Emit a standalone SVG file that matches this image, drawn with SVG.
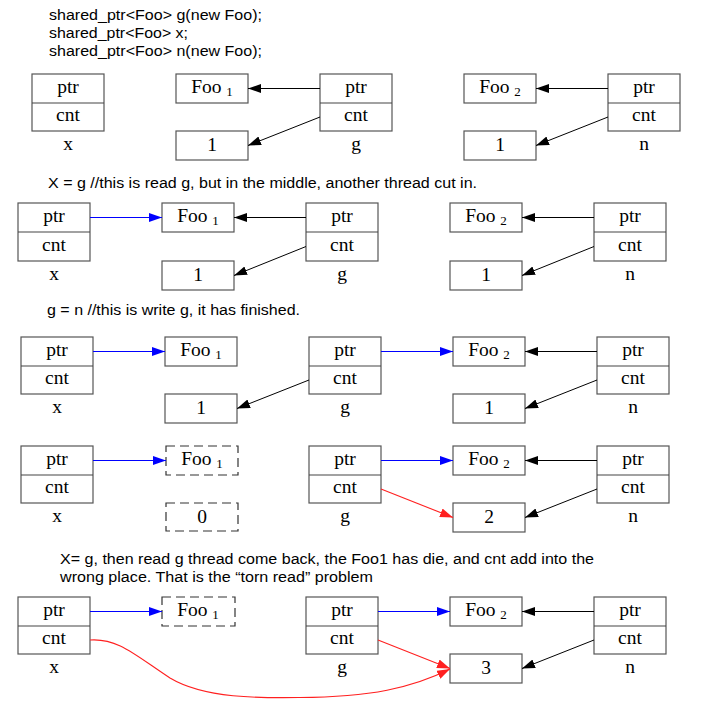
<svg xmlns="http://www.w3.org/2000/svg" width="701" height="702" viewBox="0 0 701 702">
<style>
.bg{fill:#fff}
.box{fill:#fff;stroke:#555;stroke-width:1.2}
.dash{fill:#fff;stroke:#333;stroke-width:1.2;stroke-dasharray:9,5}
.div{stroke:#444;stroke-width:1.2}
.t{font-family:"Liberation Serif","Times New Roman",serif;font-size:19.5px;fill:#000;text-anchor:middle}
.sub{font-size:13px}
.cap{font-family:"Liberation Sans",Arial,sans-serif;font-size:15.5px;fill:#000}
.e{fill:none;stroke:#000;stroke-width:1}
.eb{fill:none;stroke:#0000ff;stroke-width:1}
.er{fill:none;stroke:#ff2020;stroke-width:1.1}
</style>
<defs>
<marker id="ak" markerUnits="userSpaceOnUse" markerWidth="14" markerHeight="10" refX="13" refY="4.5" orient="auto"><path d="M0,0 L13,4.5 L0,9 z" fill="#000"/></marker>
<marker id="ab" markerUnits="userSpaceOnUse" markerWidth="14" markerHeight="10" refX="13" refY="4.5" orient="auto"><path d="M0,0 L13,4.5 L0,9 z" fill="#0000ff"/></marker>
<marker id="ar" markerUnits="userSpaceOnUse" markerWidth="14" markerHeight="10" refX="13" refY="4.5" orient="auto"><path d="M0,0 L13,4.5 L0,9 z" fill="#ff2020"/></marker>
</defs>
<rect class="bg" x="0" y="0" width="701" height="702"/>

<g id="captions">
<text class="cap" x="49" y="20" textLength="213" lengthAdjust="spacingAndGlyphs">shared_ptr&lt;Foo&gt; g(new Foo);</text>
<text class="cap" x="49" y="38" textLength="139" lengthAdjust="spacingAndGlyphs">shared_ptr&lt;Foo&gt; x;</text>
<text class="cap" x="49" y="56" textLength="213" lengthAdjust="spacingAndGlyphs">shared_ptr&lt;Foo&gt; n(new Foo);</text>
<text class="cap" x="48" y="188" textLength="429" lengthAdjust="spacingAndGlyphs">X = g //this is read g, but in the middle, another thread cut in.</text>
<text class="cap" x="47" y="315" textLength="253" lengthAdjust="spacingAndGlyphs">g = n //this is write g, it has finished.</text>
<text class="cap" x="60" y="564" textLength="534" lengthAdjust="spacingAndGlyphs">X= g, then read g thread come back, the Foo1 has die, and cnt add into the</text>
<text class="cap" x="60" y="582" textLength="313" lengthAdjust="spacingAndGlyphs">wrong place. That is the “torn read” problem</text>
</g>

<!-- Row 1 -->
<g id="r1-x"><rect class="box" x="32" y="74" width="72" height="57"/><line class="div" x1="32" y1="103" x2="104" y2="103"/><text class="t" x="68" y="93">ptr</text><text class="t" x="68" y="121">cnt</text><text class="t" x="68" y="150">x</text></g>
<g id="r1-foo1"><rect class="box" x="176" y="74" width="72" height="29"/><text class="t" x="212" y="93">Foo <tspan class="sub" dy="3">1</tspan></text></g>
<g id="r1-cnt1"><rect class="box" x="176" y="131" width="72" height="29"/><text class="t" x="212" y="151">1</text></g>
<g id="r1-g"><rect class="box" x="320" y="74" width="72" height="57"/><line class="div" x1="320" y1="103" x2="392" y2="103"/><text class="t" x="356" y="93">ptr</text><text class="t" x="356" y="121">cnt</text><text class="t" x="356" y="150">g</text></g>
<g id="r1-foo2"><rect class="box" x="464" y="74" width="72" height="29"/><text class="t" x="500" y="93">Foo <tspan class="sub" dy="3">2</tspan></text></g>
<g id="r1-cnt2"><rect class="box" x="464" y="131" width="72" height="29"/><text class="t" x="500" y="151">1</text></g>
<g id="r1-n"><rect class="box" x="608" y="74" width="72" height="57"/><line class="div" x1="608" y1="103" x2="680" y2="103"/><text class="t" x="644" y="93">ptr</text><text class="t" x="644" y="121">cnt</text><text class="t" x="644" y="150">n</text></g>

<!-- Row 2 -->
<g id="r2-x"><rect class="box" x="18" y="203" width="72" height="58"/><line class="div" x1="18" y1="232" x2="90" y2="232"/><text class="t" x="54" y="222">ptr</text><text class="t" x="54" y="251">cnt</text><text class="t" x="54" y="280">x</text></g>
<g id="r2-foo1"><rect class="box" x="162" y="203" width="72" height="29"/><text class="t" x="198" y="222">Foo <tspan class="sub" dy="3">1</tspan></text></g>
<g id="r2-cnt1"><rect class="box" x="162" y="261" width="72" height="29"/><text class="t" x="198" y="281">1</text></g>
<g id="r2-g"><rect class="box" x="306" y="203" width="72" height="58"/><line class="div" x1="306" y1="232" x2="378" y2="232"/><text class="t" x="342" y="222">ptr</text><text class="t" x="342" y="251">cnt</text><text class="t" x="342" y="280">g</text></g>
<g id="r2-foo2"><rect class="box" x="450" y="203" width="72" height="29"/><text class="t" x="486" y="222">Foo <tspan class="sub" dy="3">2</tspan></text></g>
<g id="r2-cnt2"><rect class="box" x="450" y="261" width="72" height="29"/><text class="t" x="486" y="281">1</text></g>
<g id="r2-n"><rect class="box" x="594" y="203" width="72" height="58"/><line class="div" x1="594" y1="232" x2="666" y2="232"/><text class="t" x="630" y="222">ptr</text><text class="t" x="630" y="251">cnt</text><text class="t" x="630" y="280">n</text></g>

<!-- Row 3 -->
<g id="r3-x"><rect class="box" x="21" y="337" width="72" height="57"/><line class="div" x1="21" y1="366" x2="93" y2="366"/><text class="t" x="57" y="356">ptr</text><text class="t" x="57" y="384">cnt</text><text class="t" x="57" y="413">x</text></g>
<g id="r3-foo1"><rect class="box" x="165" y="337" width="72" height="29"/><text class="t" x="201" y="356">Foo <tspan class="sub" dy="3">1</tspan></text></g>
<g id="r3-cnt1"><rect class="box" x="165" y="394" width="72" height="29"/><text class="t" x="201" y="414">1</text></g>
<g id="r3-g"><rect class="box" x="309" y="337" width="72" height="57"/><line class="div" x1="309" y1="366" x2="381" y2="366"/><text class="t" x="345" y="356">ptr</text><text class="t" x="345" y="384">cnt</text><text class="t" x="345" y="413">g</text></g>
<g id="r3-foo2"><rect class="box" x="453" y="337" width="72" height="29"/><text class="t" x="489" y="356">Foo <tspan class="sub" dy="3">2</tspan></text></g>
<g id="r3-cnt2"><rect class="box" x="453" y="394" width="72" height="29"/><text class="t" x="489" y="414">1</text></g>
<g id="r3-n"><rect class="box" x="597" y="337" width="72" height="57"/><line class="div" x1="597" y1="366" x2="669" y2="366"/><text class="t" x="633" y="356">ptr</text><text class="t" x="633" y="384">cnt</text><text class="t" x="633" y="413">n</text></g>

<!-- Row 4 -->
<g id="r4-x"><rect class="box" x="21" y="446" width="72" height="57"/><line class="div" x1="21" y1="475" x2="93" y2="475"/><text class="t" x="57" y="465">ptr</text><text class="t" x="57" y="493">cnt</text><text class="t" x="57" y="522">x</text></g>
<g id="r4-foo1"><rect class="dash" x="166" y="446" width="72" height="29"/><text class="t" x="202" y="465">Foo <tspan class="sub" dy="3">1</tspan></text></g>
<g id="r4-cnt1"><rect class="dash" x="166" y="503" width="72" height="28"/><text class="t" x="202" y="523">0</text></g>
<g id="r4-g"><rect class="box" x="309" y="446" width="72" height="57"/><line class="div" x1="309" y1="475" x2="381" y2="475"/><text class="t" x="345" y="465">ptr</text><text class="t" x="345" y="493">cnt</text><text class="t" x="345" y="522">g</text></g>
<g id="r4-foo2"><rect class="box" x="453" y="446" width="72" height="29"/><text class="t" x="489" y="465">Foo <tspan class="sub" dy="3">2</tspan></text></g>
<g id="r4-cnt2"><rect class="box" x="453" y="503" width="72" height="29"/><text class="t" x="489" y="523">2</text></g>
<g id="r4-n"><rect class="box" x="597" y="446" width="72" height="57"/><line class="div" x1="597" y1="475" x2="669" y2="475"/><text class="t" x="633" y="465">ptr</text><text class="t" x="633" y="493">cnt</text><text class="t" x="633" y="522">n</text></g>

<!-- Row 5 -->
<g id="r5-x"><rect class="box" x="18" y="597" width="72" height="57"/><line class="div" x1="18" y1="626" x2="90" y2="626"/><text class="t" x="54" y="616">ptr</text><text class="t" x="54" y="644">cnt</text><text class="t" x="54" y="673">x</text></g>
<g id="r5-foo1"><rect class="dash" x="162" y="597" width="73" height="29"/><text class="t" x="198" y="616">Foo <tspan class="sub" dy="3">1</tspan></text></g>
<g id="r5-g"><rect class="box" x="306" y="597" width="72" height="57"/><line class="div" x1="306" y1="626" x2="378" y2="626"/><text class="t" x="342" y="616">ptr</text><text class="t" x="342" y="644">cnt</text><text class="t" x="342" y="673">g</text></g>
<g id="r5-foo2"><rect class="box" x="450" y="597" width="72" height="29"/><text class="t" x="486" y="616">Foo <tspan class="sub" dy="3">2</tspan></text></g>
<g id="r5-cnt2"><rect class="box" x="450" y="654" width="72" height="29"/><text class="t" x="486" y="674">3</text></g>
<g id="r5-n"><rect class="box" x="594" y="597" width="72" height="57"/><line class="div" x1="594" y1="626" x2="666" y2="626"/><text class="t" x="630" y="616">ptr</text><text class="t" x="630" y="644">cnt</text><text class="t" x="630" y="673">n</text></g>

<g id="connectors">
<!-- Row 1 -->
<line class="e" x1="320" y1="88.5" x2="248" y2="88.5" marker-end="url(#ak)"/>
<line class="e" x1="320" y1="117" x2="248" y2="145.5" marker-end="url(#ak)"/>
<line class="e" x1="608" y1="88.5" x2="536" y2="88.5" marker-end="url(#ak)"/>
<line class="e" x1="608" y1="117" x2="536" y2="145.5" marker-end="url(#ak)"/>
<!-- Row 2 -->
<line class="eb" x1="90" y1="217.5" x2="162" y2="217.5" marker-end="url(#ab)"/>
<line class="e" x1="306" y1="217.5" x2="234" y2="217.5" marker-end="url(#ak)"/>
<line class="e" x1="306" y1="246.5" x2="234" y2="275.5" marker-end="url(#ak)"/>
<line class="e" x1="594" y1="217.5" x2="522" y2="217.5" marker-end="url(#ak)"/>
<line class="e" x1="594" y1="246.5" x2="522" y2="275.5" marker-end="url(#ak)"/>
<!-- Row 3 -->
<line class="eb" x1="93" y1="351.5" x2="165" y2="351.5" marker-end="url(#ab)"/>
<line class="e" x1="309" y1="380" x2="237" y2="408.5" marker-end="url(#ak)"/>
<line class="eb" x1="381" y1="351.5" x2="453" y2="351.5" marker-end="url(#ab)"/>
<line class="e" x1="597" y1="351.5" x2="525" y2="351.5" marker-end="url(#ak)"/>
<line class="e" x1="597" y1="380" x2="525" y2="408.5" marker-end="url(#ak)"/>
<!-- Row 4 -->
<line class="eb" x1="93" y1="460.5" x2="166" y2="460.5" marker-end="url(#ab)"/>
<line class="eb" x1="381" y1="460.5" x2="453" y2="460.5" marker-end="url(#ab)"/>
<line class="er" x1="381" y1="489" x2="453" y2="517.5" marker-end="url(#ar)"/>
<line class="e" x1="597" y1="460.5" x2="525" y2="460.5" marker-end="url(#ak)"/>
<line class="e" x1="597" y1="489" x2="525" y2="517.5" marker-end="url(#ak)"/>
<!-- Row 5 -->
<line class="eb" x1="90" y1="611.5" x2="162" y2="611.5" marker-end="url(#ab)"/>
<line class="eb" x1="378" y1="611.5" x2="450" y2="611.5" marker-end="url(#ab)"/>
<line class="er" x1="378" y1="640" x2="450" y2="668.5" marker-end="url(#ar)"/>
<line class="e" x1="594" y1="611.5" x2="522" y2="611.5" marker-end="url(#ak)"/>
<line class="e" x1="594" y1="640" x2="522" y2="668.5" marker-end="url(#ak)"/>
<path class="er" d="M90,640 C118,638 135,655 170,678 C205,699 262,698 300,697.5 C370,697 412,688 450,669" marker-end="url(#ar)"/>
</g>
</svg>
